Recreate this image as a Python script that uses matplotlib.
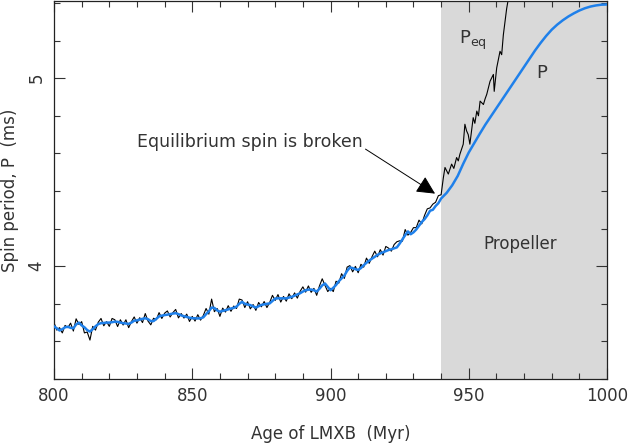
import numpy as np
import matplotlib
matplotlib.use("Agg")
import matplotlib.pyplot as plt

# ages (Myr) on a 1 Myr grid before the break
age_lo = np.arange(800, 941)

# smoothed spin period P (ms), 800..940
p_lo = [3.68, 3.67, 3.658, 3.665, 3.675, 3.678, 3.672, 3.67, 3.69, 3.70,
        3.685, 3.675, 3.66, 3.652, 3.665, 3.68, 3.692, 3.697, 3.698, 3.70,
        3.70, 3.702, 3.705, 3.704, 3.70, 3.697, 3.695, 3.693, 3.70, 3.71,
        3.712, 3.716, 3.72, 3.723, 3.718, 3.708, 3.708, 3.72, 3.733, 3.737,
        3.74, 3.742, 3.745, 3.748, 3.75, 3.745, 3.738, 3.734, 3.73, 3.726,
        3.723, 3.723, 3.722, 3.723, 3.728, 3.745, 3.76, 3.78, 3.778, 3.765,
        3.758, 3.762, 3.766, 3.77, 3.775, 3.778, 3.785, 3.80, 3.81, 3.80,
        3.796, 3.793, 3.786, 3.78, 3.787, 3.794, 3.797, 3.80, 3.802, 3.815,
        3.828, 3.829, 3.829, 3.829, 3.829, 3.833, 3.837, 3.843, 3.85, 3.856,
        3.865, 3.872, 3.875, 3.876, 3.872, 3.865, 3.88, 3.898, 3.908, 3.89,
        3.872, 3.885, 3.90, 3.92, 3.935, 3.95, 3.975, 3.993, 3.99, 3.984,
        3.98, 3.99, 4.005, 4.018, 4.03, 4.04, 4.05, 4.06, 4.068, 4.074,
        4.08, 4.086, 4.09, 4.095, 4.10, 4.12, 4.143, 4.165, 4.185, 4.17,
        4.18, 4.195, 4.215, 4.235, 4.25, 4.27, 4.295, 4.30, 4.32, 4.335,
        4.36]

# propeller phase, P after the break
age_hi = [942, 944, 946, 948, 950, 952, 954, 956, 958, 960, 962, 964, 966,
          968, 970, 972, 974, 976, 978, 980, 982, 984, 986, 988, 990, 992,
          994, 996, 998, 1000]
p_hi = [4.39, 4.43, 4.48, 4.545, 4.605, 4.655, 4.705, 4.753, 4.797, 4.84,
        4.885, 4.93, 4.973, 5.017, 5.06, 5.105, 5.148, 5.188, 5.225, 5.258,
        5.285, 5.308, 5.328, 5.345, 5.36, 5.372, 5.381, 5.387, 5.391, 5.392]

# equilibrium period Peq (ms), 800..940
peq_lo = [3.70, 3.66, 3.673, 3.645, 3.685, 3.673, 3.697, 3.655, 3.72, 3.69,
          3.705, 3.645, 3.65, 3.607, 3.68, 3.66, 3.702, 3.722, 3.683, 3.705,
          3.68, 3.722, 3.715, 3.679, 3.715, 3.687, 3.715, 3.673, 3.705, 3.73,
          3.697, 3.726, 3.70, 3.748, 3.708, 3.688, 3.723, 3.715, 3.753, 3.722,
          3.75, 3.762, 3.73, 3.753, 3.77, 3.725, 3.748, 3.724, 3.745, 3.706,
          3.733, 3.708, 3.742, 3.713, 3.738, 3.775, 3.745, 3.825, 3.758, 3.775,
          3.733, 3.777, 3.756, 3.79, 3.76, 3.788, 3.775, 3.825, 3.82, 3.78,
          3.811, 3.773, 3.796, 3.765, 3.807, 3.784, 3.812, 3.78, 3.807, 3.845,
          3.818, 3.849, 3.809, 3.839, 3.814, 3.853, 3.827, 3.858, 3.83, 3.866,
          3.89, 3.862, 3.895, 3.861, 3.882, 3.845, 3.895, 3.933, 3.898, 3.865,
          3.882, 3.865, 3.92, 3.91, 3.96, 3.935, 3.995, 4.003, 3.97, 3.999,
          3.965, 4.01, 3.995, 4.043, 4.015, 4.05, 4.08, 4.05, 4.088, 4.059,
          4.105, 4.096, 4.08, 4.115, 4.13, 4.135, 4.133, 4.195, 4.165, 4.18,
          4.205, 4.205, 4.245, 4.225, 4.27, 4.305, 4.31, 4.33, 4.34, 4.375,
          4.38]

# Peq after the break (runs off the top)
age_eq_hi = [940.8, 941.4, 942.6, 943.8, 944.6, 945.6, 946.2, 946.8, 948.0,
             948.6, 949.2, 949.8, 950.4, 951.6, 952.2, 952.9, 953.5, 954.1,
             955.3, 955.9, 956.5, 957.1, 957.7, 958.9, 959.2, 960.1, 960.7,
             961.3, 961.9, 962.5, 963.1, 963.7, 964.2, 965.0]
peq_hi = [4.47, 4.525, 4.49, 4.543, 4.52, 4.578, 4.56, 4.596, 4.649, 4.755,
          4.72, 4.70, 4.649, 4.79, 4.76, 4.825, 4.80, 4.878, 4.86, 4.89,
          4.914, 4.95, 4.984, 5.02, 4.93, 5.055, 5.10, 5.143, 5.125, 5.23,
          5.30, 5.37, 5.41, 5.5]

t_break = 940

txt = '#333333'
fig = plt.figure(figsize=(6.28, 4.43), dpi=100)
ax = fig.add_axes([0.086, 0.1445, 0.8806, 0.853])

ax.axvspan(t_break, 1000, color='#d9d9d9', lw=0, zorder=0)

ax.plot(list(age_lo) + age_eq_hi, peq_lo + peq_hi, color='black', lw=0.8, zorder=2)
ax.plot(list(age_lo) + age_hi, p_lo + p_hi, color='#1f80ea', lw=1.8, zorder=3)

ax.set_xlim(800, 1000)
ax.set_ylim(3.40, 5.41)
ax.set_xticks([800, 850, 900, 950, 1000])
ax.set_xticks(np.arange(800, 1001, 10), minor=True)
ax.set_yticks([4, 5])
ax.set_yticks(np.arange(3.4, 5.41, 0.2), minor=True)
ax.tick_params(which='both', direction='in', top=True, right=True,
               colors='#333333', labelsize=12, labelcolor=txt)
ax.tick_params(which='major', length=8, width=0.8, pad=6)
ax.tick_params(which='minor', length=4, width=0.8)
for lab in ax.get_yticklabels():
    lab.set_rotation(90)
    lab.set_va('center')
for s in ax.spines.values():
    s.set_linewidth(0.9)
    s.set_color('#222222')

ax.set_xlabel('Age of LMXB  (Myr)', fontsize=12, color=txt, labelpad=14)
ax.set_ylabel('Spin period, P  (ms)', fontsize=12, color=txt)
ax.yaxis.set_label_coords(-0.064, 0.5)

ax.annotate('Equilibrium spin is broken', xy=(937.8, 4.386), xytext=(830, 4.661),
            fontsize=12.5, color=txt, va='center', ha='left',
            arrowprops=dict(arrowstyle='-|>,head_length=0.9,head_width=0.45',
                            color='black', lw=0.7, shrinkA=0, shrinkB=0,
                            relpos=(1.0, 0.2)))
ax.text(946.5, 5.2, r'P$_{\rm eq}$', fontsize=13, color=txt, va='center')
ax.text(974.5, 5.03, 'P', fontsize=13, color=txt, va='center')
ax.text(968.5, 4.12, 'Propeller', fontsize=12, color=txt, ha='center', va='center')

fig.savefig('out.png', dpi=100)
